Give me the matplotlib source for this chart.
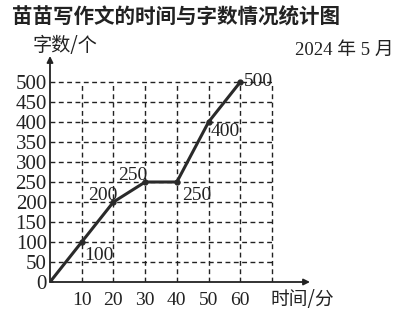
import matplotlib
matplotlib.use("Agg")
import matplotlib.pyplot as plt

minutes = [0, 10, 20, 30, 40, 50, 60]
words = [0, 100, 200, 250, 250, 400, 500]
x_ticks = [10, 20, 30, 40, 50, 60]
y_ticks = [0, 50, 100, 150, 200, 250, 300, 350, 400, 450, 500]
grid_x = [10, 20, 30, 40, 50, 60, 70]
label_points = [1, 2, 3, 4, 5, 6]
# (dx, dy, ha) in pixels for each labelled point
label_offsets = [(3, -11, 'left'), (4, 9, 'right'), (-12, 9, 'center'),
                 (5, -11, 'left'), (2, -8, 'left'), (4, 3, 'left')]

title = "苗苗写作文的时间与字数情况统计图"
ylab = "字数/个"
xlab = "时间/分"
date = "2024 年 5 月"

W, H = 401, 314
fig = plt.figure(figsize=(W / 100, H / 100), dpi=100)
fig.patch.set_facecolor('white')

x0, y0 = 50, 282
xr, yt = 310, 56
sx = (272 - 50) / 70
sy = (282 - 82) / 500
ax = fig.add_axes([x0 / W, 1 - y0 / H, (xr - x0) / W, (y0 - yt) / H])
ax.set_xlim(0, (xr - x0) / sx)
ax.set_ylim(0, (y0 - yt) / sy)
for s in ax.spines.values():
    s.set_visible(False)
ax.set_xticks([])
ax.set_yticks([])
ax.patch.set_alpha(0)

ink = '#222222'
serif = ['Liberation Serif', 'DejaVu Serif']
cjk = ['Noto Sans CJK SC', 'DejaVu Sans']
num_fs = 14

# grid
for gx in grid_x:
    ax.plot([gx, gx], [0, 500], color=ink, lw=1.0, ls=(0, (3.5, 2.5)))
for gy in y_ticks[1:]:
    ax.plot([0, 70], [gy, gy], color=ink, lw=1.0, ls=(0, (3.5, 2.5)))

# axes with arrows
ax.annotate('', xy=(ax.get_xlim()[1], 0), xytext=(0, 0),
            arrowprops=dict(arrowstyle='-|>', color=ink, lw=1.3,
                            mutation_scale=9, shrinkA=0, shrinkB=0))
ax.annotate('', xy=(0, ax.get_ylim()[1]), xytext=(0, 0),
            arrowprops=dict(arrowstyle='-|>', color=ink, lw=1.3,
                            mutation_scale=9, shrinkA=0, shrinkB=0))

# data line
ax.plot(minutes, words, color='#2a2a2a', lw=2.2, marker='o', ms=3.5,
        solid_joinstyle='round', zorder=5)

# tick labels
for yv in y_ticks:
    ax.text(-1.0, yv, str(yv), ha='right', va='center_baseline',
            fontsize=15, family=serif, color=ink)
for xv in x_ticks:
    ax.text(xv, -42, str(xv), ha='center', va='center_baseline',
            fontsize=num_fs, family=serif, color=ink)

# point labels
for i, (dx, dy, ha) in zip(label_points, label_offsets):
    ax.annotate(str(words[i]), xy=(minutes[i], words[i]), xytext=(dx, dy),
                textcoords='offset pixels', ha=ha, va='center_baseline',
                fontsize=num_fs, family=serif, color=ink)

# texts
fig.text(12 / W, 1 - 17 / H, title, ha='left', va='center', fontsize=14.8,
         fontweight='bold', family=cjk, color=ink)
fig.text(33 / W, 1 - 46 / H, ylab, ha='left', va='center', fontsize=13.8,
         family=cjk, color=ink)
fig.text(270 / W, 1 - 299 / H, xlab, ha='left', va='center', fontsize=13.5,
         family=cjk, color=ink)
fig.text(394 / W, 1 - 50 / H, date, ha='right', va='center', fontsize=13.5,
         family=['Liberation Serif', 'Noto Sans CJK SC'], color=ink)

fig.savefig('out.png', dpi=100, facecolor='white')
